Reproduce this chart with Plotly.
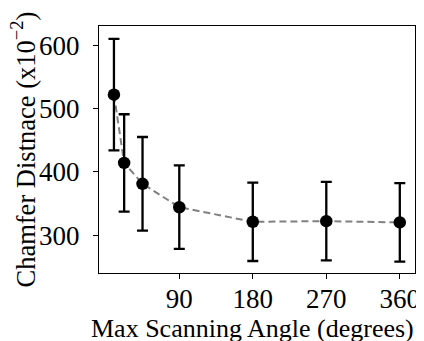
import plotly.graph_objects as go

angles = [10, 22.5, 45, 90, 180, 270, 360]
chamfer = [522, 414, 381, 344, 321, 322, 320]
chamfer_err = [88, 77, 74, 66, 62, 62, 62]
x_ticks = [90, 180, 270, 360]
y_ticks = [300, 400, 500, 600]

FONT = "Liberation Serif"

fig = go.Figure()
fig.add_trace(go.Scatter(
    x=angles, y=chamfer, mode="lines",
    line=dict(color="#808080", width=2, dash="7px,4px"),
    showlegend=False, hoverinfo="skip"))
fig.add_trace(go.Scatter(
    x=angles, y=chamfer, mode="markers",
    marker=dict(color="black", size=12.5),
    error_y=dict(type="data", array=chamfer_err, color="black", thickness=2.3, width=5.5),
    showlegend=False))

# page body has an 8px margin, so the figure is sized to fit the 424x341 window
fig.update_layout(
    width=416, height=333,
    margin=dict(l=91, r=9, t=18, b=68),
    paper_bgcolor="white", plot_bgcolor="white",
    font=dict(family=FONT, size=27, color="black"),
    annotations=[
        dict(text="Max Scanning Angle (degrees)", xref="paper", yref="paper",
             x=0.486, y=-0.226, xanchor="center", yanchor="middle", showarrow=False,
             font=dict(size=26)),
        dict(text="Chamfer Distnace (x10<sup>−2</sup>)", xref="paper", yref="paper",
             x=-0.2405, y=0.5, xanchor="center", yanchor="middle", showarrow=False,
             textangle=-90, font=dict(size=26.5)),
    ],
)
fig.update_xaxes(
    range=[-8.3, 378.6], tickvals=x_ticks, ticks="outside", ticklen=5, tickwidth=1,
    tickcolor="black", showline=True, linecolor="black", linewidth=1, mirror=True,
    showgrid=False, zeroline=False, automargin=False, ticklabelstandoff=-3,
)
fig.update_yaxes(
    range=[240, 630.5], tickvals=y_ticks, ticks="outside", ticklen=5, tickwidth=1,
    tickcolor="black", showline=True, linecolor="black", linewidth=1, mirror=True,
    showgrid=False, zeroline=False, automargin=False, ticklabelstandoff=8,
)

fig.write_html("out.html")
